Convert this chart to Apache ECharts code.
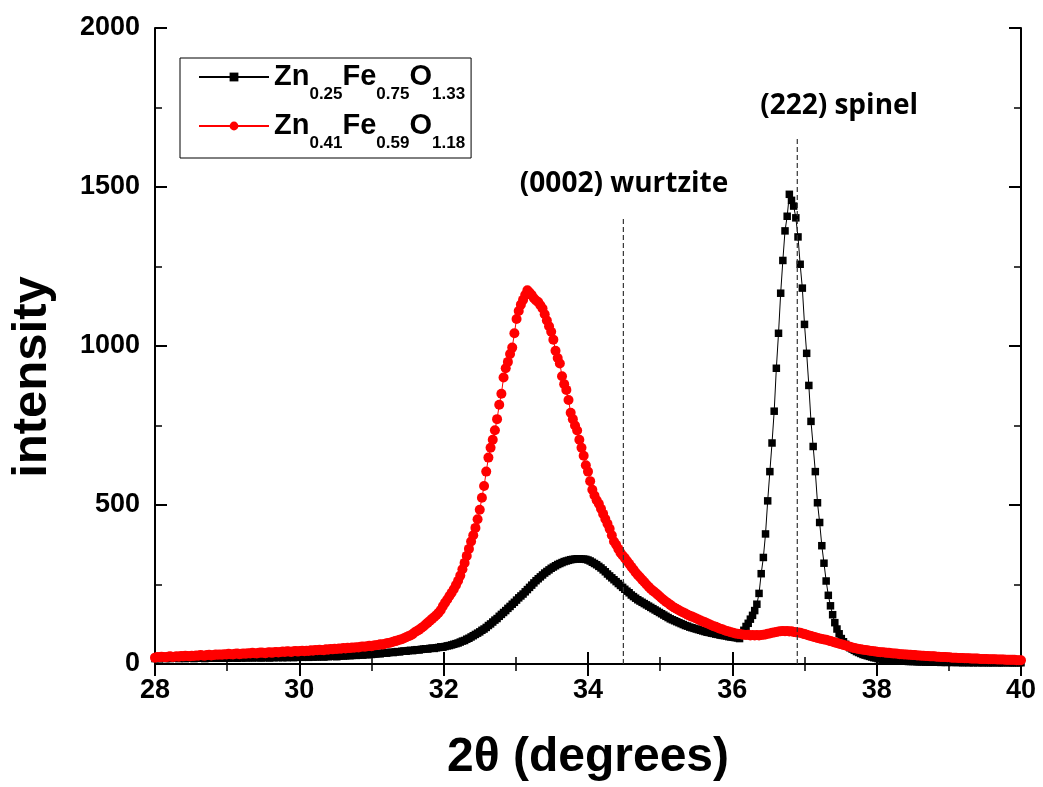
<!DOCTYPE html>
<html>
<head>
<meta charset="utf-8">
<script src="https://cdn.jsdelivr.net/npm/echarts@6/dist/echarts.min.js"></script>
<style>
html, body { margin: 0; padding: 0; background: #fff; }
#main { width: 1043px; height: 787px; }
</style>
</head>
<body>
<div id="main"></div>
<script>
var myChart = echarts.init(document.getElementById('main'));

// scan grid: 2theta from 28 in steps of 0.03 deg
var thetaStart = 28;
var thetaStep = 0.03;

// Zn0.25Fe0.75O1.33 (black squares), one row = 0.3 deg
var blackCounts = [
	17,18,16,18,19,17,18,17,19,18,
	18,17,19,18,17,18,19,18,17,19,
	18,19,18,17,19,18,19,18,19,18,
	19,18,19,20,18,19,20,19,18,20,
	19,20,19,20,21,19,20,21,20,19,
	20,21,20,19,21,20,21,20,22,20,
	21,20,22,21,20,22,21,22,21,22,
	22,21,23,22,23,22,24,23,22,24,
	23,24,25,24,23,25,26,25,26,27,
	26,27,28,27,28,29,28,30,29,31,
	30,31,32,33,32,34,35,34,36,37,
	36,38,39,38,40,41,40,42,43,42,
	44,45,44,46,47,48,47,49,50,49,
	51,52,54,53,55,57,58,60,62,64,
	66,69,72,74,78,81,85,89,93,97,
	101,106,110,115,121,126,132,138,143,150,
	156,162,168,175,181,188,194,201,208,214,
	220,227,234,241,248,255,262,268,274,280,
	286,291,296,301,305,309,313,316,319,322,
	324,326,328,329,330,331,331,330,330,329,
	327,324,320,316,312,307,302,296,290,283,
	277,271,265,259,253,247,241,235,229,224,
	217,212,207,202,198,194,190,186,182,178,
	174,170,166,162,158,154,150,146,142,139,
	136,133,130,127,124,121,119,116,114,112,
	110,108,106,104,102,100,99,97,96,94,
	93,91,90,89,88,86,85,84,83,82,
	80,92,106,118,128,141,153,168,188,222,
	284,335,409,513,605,695,795,930,1040,1166,
	1269,1362,1408,1477,1458,1440,1403,1343,1257,1182,
	1068,977,876,763,684,605,507,445,372,317,
	261,216,183,155,130,110,95,80,70,62,
	56,51,47,43,39,36,33,30,28,26,
	24,22,20,19,17,16,15,14,13,12,
	12,11,11,10,10,9,9,9,8,8,
	8,8,7,7,7,7,6,7,6,6,
	6,6,6,5,6,5,5,6,5,5,
	5,5,5,4,5,5,4,5,4,5,
	4,5,4,4,5,4,4,4,5,4,
	4,4,4,5,4,4,4,4,4,4,
	4
];

// Zn0.41Fe0.59O1.18 (red circles)
var redCounts = [
	20,22,21,23,22,21,23,24,22,23,
	24,23,25,24,26,25,24,26,25,27,
	26,28,27,26,28,29,27,28,30,29,
	30,29,31,30,32,31,30,32,33,31,
	32,33,32,34,33,35,34,33,35,36,
	35,34,36,37,35,37,38,36,38,39,
	38,40,39,38,40,41,39,41,42,40,
	42,41,43,42,44,43,45,44,43,46,
	45,47,46,48,47,49,48,50,49,51,
	50,52,51,53,52,54,55,54,56,57,
	56,58,59,60,62,61,63,65,66,68,
	70,72,74,76,78,81,84,87,90,94,
	100,104,108,113,118,124,130,136,142,148,
	154,161,170,182,193,203,214,224,235,248,
	262,278,298,318,340,362,385,405,428,455,
	485,523,560,605,649,680,705,735,770,815,
	850,901,930,950,975,995,1040,1085,1110,1130,
	1145,1160,1175,1168,1160,1150,1143,1138,1128,1118,
	1100,1080,1062,1045,1020,985,962,945,905,880,
	862,830,790,770,750,734,705,680,655,625,
	605,575,548,530,515,504,488,472,456,441,
	425,405,385,375,362,350,341,333,324,315,
	306,297,288,280,273,265,258,250,243,236,
	230,225,219,213,207,201,196,191,186,181,
	177,173,169,165,162,159,155,152,149,146,
	143,140,137,134,131,128,125,122,119,117,
	114,111,109,106,104,102,100,98,96,95,
	94,93,92,91,92,90,91,90,91,90,
	91,92,93,95,96,98,99,101,102,103,
	104,103,104,102,103,101,100,99,98,96,
	94,92,90,88,86,84,82,80,79,77,
	76,74,72,70,68,66,64,62,60,58,
	56,54,52,50,49,47,46,45,44,43,
	42,41,40,39,38,37,37,36,35,35,
	34,33,33,32,31,31,30,30,29,29,
	28,28,27,27,26,26,25,25,24,24,
	24,23,23,22,22,22,21,21,20,20,
	20,19,19,19,18,18,18,17,17,17,
	17,16,16,16,16,15,15,15,15,14,
	14,14,14,13,13,13,13,13,12,12,
	12
];

var seriesNames = ['Zn0.25Fe0.75O1.33', 'Zn0.41Fe0.59O1.18'];
var legendLabels = [
	'{b|Zn}{s|0.25}{b|Fe}{s|0.75}{b|O}{s|1.33}',
	'{b|Zn}{s|0.41}{b|Fe}{s|0.59}{b|O}{s|1.18}'
];

// reference peak positions (dashed lines) and their labels
var peakTheta = [34.49, 36.9];
var peakTop = [1400, 1657];
var peakLabels = ['(0002) wurtzite', '(222) spinel'];
var peakLabelAt = [[34.5, 1510], [37.48, 1756]];

function toPairs(values) {
	var out = [];
	for (var i = 0; i < values.length; i++) {
		out.push([+(thetaStart + i * thetaStep).toFixed(2), values[i]]);
	}
	return out;
}

var axisFont = 'Liberation Sans, Arial, sans-serif';

function xAxisCfg(pos, showLabel) {
	return {
		type: 'value',
		position: pos,
		min: 28,
		max: 40,
		interval: 2,
		axisLine: { show: true, lineStyle: { color: '#000', width: 2 } },
		axisTick: { show: true, inside: true, length: 12, lineStyle: { color: '#000', width: 2 } },
		minorTick: { show: true, splitNumber: 2, length: 7, lineStyle: { color: '#000', width: 1.5 } },
		splitLine: { show: false },
		axisLabel: { show: showLabel, color: '#000', fontSize: 27, fontWeight: 'bold', fontFamily: axisFont, margin: 13 },
		name: showLabel ? '2θ (degrees)' : '',
		nameLocation: 'middle',
		nameGap: 70,
		nameTextStyle: { color: '#000', fontSize: 48, fontWeight: 'bold', fontFamily: axisFont }
	};
}

function yAxisCfg(pos, showLabel) {
	return {
		type: 'value',
		position: pos,
		min: 0,
		max: 2000,
		interval: 500,
		axisLine: { show: true, lineStyle: { color: '#000', width: 2 } },
		axisTick: { show: true, inside: true, length: 12, lineStyle: { color: '#000', width: 2 } },
		minorTick: { show: true, splitNumber: 2, length: 7, lineStyle: { color: '#000', width: 1.5 } },
		splitLine: { show: false },
		axisLabel: {
			show: showLabel, color: '#000', fontSize: 27, fontWeight: 'bold', fontFamily: axisFont, margin: 15,
			formatter: function (v) { return String(v); }
		},
		name: showLabel ? 'intensity' : '',
		nameLocation: 'middle',
		nameGap: 98,
		nameTextStyle: { color: '#000', fontSize: 49, fontWeight: 'bold', fontFamily: axisFont, padding: [0, 62, 0, 0] }
	};
}

var series = [{
	name: seriesNames[0],
	type: 'line',
	data: toPairs(blackCounts),
	symbol: 'rect',
	symbolSize: 7.5,
	itemStyle: { color: '#000' },
	lineStyle: { color: '#000', width: 1 },
	z: 3
}, {
	name: seriesNames[1],
	type: 'line',
	data: toPairs(redCounts),
	symbol: 'circle',
	symbolSize: 10,
	itemStyle: { color: '#ff0000' },
	lineStyle: { color: '#ff0000', width: 1 },
	z: 4
}];

for (var k = 0; k < peakTheta.length; k++) {
	series.push({
		type: 'line',
		data: [[peakTheta[k], 0], [peakTheta[k], peakTop[k]]],
		symbol: 'none',
		silent: true,
		lineStyle: { color: '#333', width: 1.2, type: [5, 3] },
		z: 5
	});
}

series.push({
	type: 'scatter',
	data: peakLabelAt,
	symbolSize: 0,
	silent: true,
	itemStyle: { opacity: 1 },
	label: {
		show: true,
		position: [0, 0],
		align: 'center',
		verticalAlign: 'middle',
		formatter: function (p) { return peakLabels[p.dataIndex]; },
		color: '#000',
		opacity: 1,
		fontSize: 28,
		fontWeight: 'bold',
		fontFamily: 'Open Sans, Noto Sans, sans-serif'
	},
	z: 6
});

option = {
	animation: false,
	backgroundColor: '#fff',
	grid: { left: 155, right: 22, top: 28, bottom: 123 },
	legend: {
		data: seriesNames,
		orient: 'vertical',
		left: 180,
		top: 58,
		padding: [4, 6, 6, 18],
		itemGap: 8,
		itemWidth: 70,
		itemHeight: 11,
		borderColor: '#000',
		borderWidth: 1,
		backgroundColor: '#fff',
		formatter: function (name) {
			return legendLabels[seriesNames.indexOf(name)];
		},
		textStyle: {
			color: '#000',
			rich: {
				b: { fontSize: 29, fontWeight: 'bold', fontFamily: axisFont, lineHeight: 30, verticalAlign: 'top' },
				s: { fontSize: 17, fontWeight: 'bold', fontFamily: axisFont, lineHeight: 17, verticalAlign: 'top', padding: [24, 0, 0, 0] }
			}
		}
	},
	xAxis: [xAxisCfg('bottom', true), xAxisCfg('top', false)],
	yAxis: [yAxisCfg('left', true), yAxisCfg('right', false)],
	series: series
};

myChart.setOption(option);
</script>
</body>
</html>
